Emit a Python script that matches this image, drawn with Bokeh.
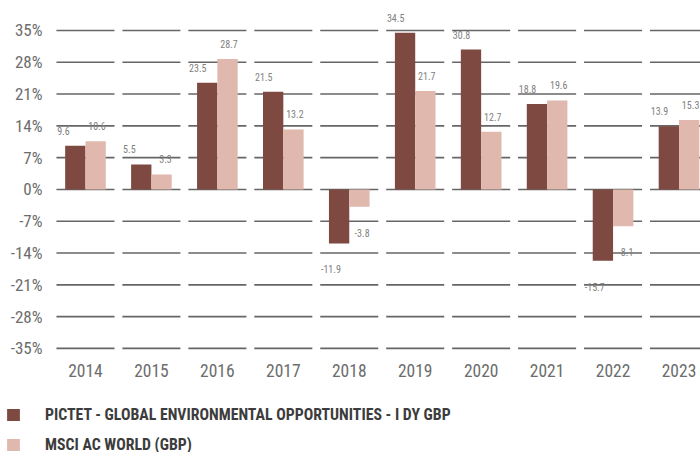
from bokeh.plotting import figure
from bokeh.layouts import column
from bokeh.models import (ColumnDataSource, Range1d, FixedTicker, Legend, LegendItem)
from bokeh.transform import dodge
from bokeh.core.properties import value
from bokeh.embed import file_html
from bokeh.resources import INLINE

years = ["2014", "2015", "2016", "2017", "2018", "2019", "2020", "2021", "2022", "2023"]
fund = [9.6, 5.5, 23.5, 21.5, -11.9, 34.5, 30.8, 18.8, -15.7, 13.9]
index = [10.6, 3.3, 28.7, 13.2, -3.8, 21.7, 12.7, 19.6, -8.1, 15.3]
yticks = [-35, -28, -21, -14, -7, 0, 7, 14, 21, 28, 35]
fund_name = "PICTET - GLOBAL ENVIRONMENTAL OPPORTUNITIES - I DY GBP"
index_name = "MSCI AC WORLD (GBP)"

DARK = "#7d4940"
LIGHT = "#e0b8ae"
FONT = "Roboto Condensed"
GREY = "#6d6d6d"

n = len(years)
idx = list(range(n))
src = ColumnDataSource(dict(
    idx=idx, fund=fund, index=index,
    fund_lbl=[f"{v:.1f}" for v in fund],
    index_lbl=[f"{v:.1f}" for v in index],
    fund_off=[-15 if v >= 0 else 26 for v in fund],
    index_off=[-15 if v >= 0 else 26 for v in index],
))

p = figure(width=700, height=392, output_backend="svg", toolbar_location=None,
           x_range=Range1d(-0.5, 9.326), y_range=Range1d(-37.0, 41.6),
           min_border_left=52, min_border_right=0, min_border_top=0, min_border_bottom=35)
p.frame_align = False
p.outline_line_color = None
p.xgrid.visible = False
p.ygrid.visible = False
p.background_fill_color = "white"

# segmented gridlines, one piece per category slot
g = 0.06
gx0, gx1, gy = [], [], []
for i in idx:
    for t in yticks:
        gx0.append(i - 0.5 + g)
        gx1.append(i + 0.5 - g)
        gy.append(t)
p.segment(x0=gx0, x1=gx1, y0=gy, y1=gy, line_color="#666666", line_width=1.6)

bw = 0.308
p.vbar(x=dodge("idx", -bw / 2, range=p.x_range), top="fund", bottom=0, width=bw,
       source=src, fill_color=DARK, line_color=None)
p.vbar(x=dodge("idx", bw / 2, range=p.x_range), top="index", bottom=0, width=bw,
       source=src, fill_color=LIGHT, line_color=None)

p.text(x=dodge("idx", -bw, range=p.x_range), y="fund", text="fund_lbl", source=src,
       text_align="left", text_baseline="middle", x_offset=-8, y_offset="fund_off",
       text_font=value(FONT), text_font_size="10px", text_color="#808080")
p.text(x=dodge("idx", bw, range=p.x_range), y="index", text="index_lbl", source=src,
       text_align="right", text_baseline="middle", x_offset=0, y_offset="index_off",
       text_font=value(FONT), text_font_size="10px", text_color="#808080")

yax = p.yaxis[0]
yax.ticker = FixedTicker(ticks=yticks)
yax.major_label_overrides = {t: f"{t}%" for t in yticks}
yax.axis_line_color = None
yax.major_tick_line_color = None
yax.minor_tick_line_color = None
yax.major_tick_out = 0
yax.minor_tick_out = 0
yax.major_label_standoff = 10
yax.major_label_text_font = FONT
yax.major_label_text_font_size = "17px"
yax.major_label_text_color = GREY

xax = p.xaxis[0]
xax.ticker = FixedTicker(ticks=idx)
xax.major_label_overrides = {i: y for i, y in zip(idx, years)}
xax.axis_line_color = None
xax.major_tick_line_color = None
xax.minor_tick_line_color = None
xax.major_tick_out = 0
xax.minor_tick_out = 0
xax.major_label_standoff = 6
xax.major_label_text_font = FONT
xax.major_label_text_font_size = "17.5px"
xax.major_label_text_color = GREY

# legend strip
lp = figure(width=700, height=60, output_backend="svg", toolbar_location=None,
            x_range=Range1d(0, 1), y_range=Range1d(1000, 1001),
            x_axis_location=None, y_axis_location=None,
            min_border_left=0, min_border_right=0, min_border_top=0, min_border_bottom=0)
lp.frame_align = False
lp.outline_line_color = None
lp.xgrid.visible = False
lp.ygrid.visible = False
lr1 = lp.vbar(x="idx", top="fund", bottom=0, width=bw, source=src, fill_color=DARK, line_color=None)
lr2 = lp.vbar(x="idx", top="index", bottom=0, width=bw, source=src, fill_color=LIGHT, line_color=None)

legend = Legend(items=[LegendItem(label=fund_name, renderers=[lr1]),
                       LegendItem(label=index_name, renderers=[lr2])],
                location=(5, -2), orientation="vertical",
                glyph_width=16, glyph_height=15, label_height=20, spacing=10,
                label_standoff=24, padding=0, margin=0,
                border_line_color=None, background_fill_alpha=0,
                label_text_font=FONT, label_text_font_size="15.8px",
                label_text_font_style="bold", label_text_color="#3c3c3c",
                label_text_baseline="middle")
lp.add_layout(legend, "center")

layout = column(p, lp, spacing=0)
open("out.html", "w").write(file_html(layout, INLINE))
